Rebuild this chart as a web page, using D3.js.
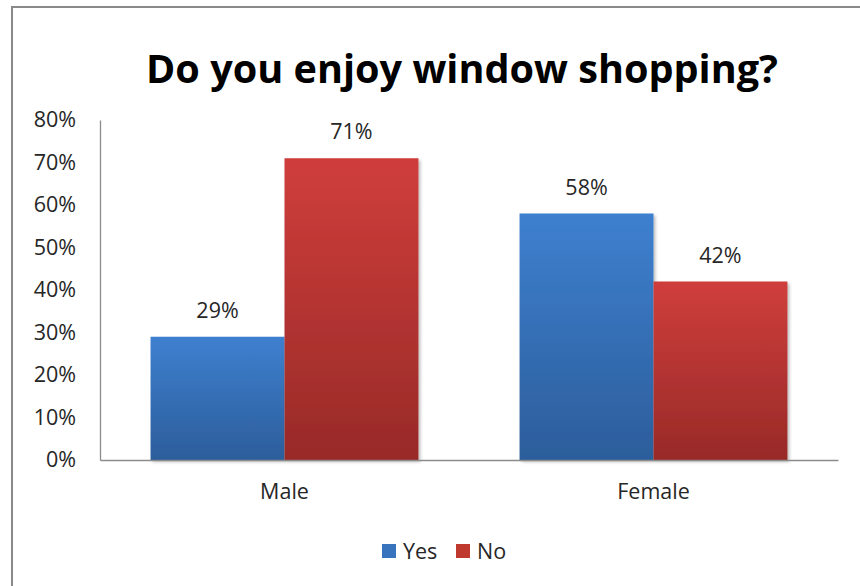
<!DOCTYPE html>
<html>
<head>
<meta charset="utf-8">
<script src="https://cdn.jsdelivr.net/npm/d3@7"></script>
<style>
  html, body { margin: 0; padding: 0; background: #fff; }
  svg { display: block; }
  text { font-family: "Open Sans", "Noto Sans", sans-serif; fill: #222; }
</style>
</head>
<body>
<svg id="chart" width="860" height="586"></svg>
<script>
// Survey answers by gender (percent)
const categories = ["Male", "Female"];
const seriesNames = ["Yes", "No"];
const yesValues = [29, 58];
const noValues = [71, 42];
const yTicks = [0, 10, 20, 30, 40, 50, 60, 70, 80];
const titleText = "Do you enjoy window shopping?";

const seriesColors = {
  Yes: { top: "#3e80cf", bottom: "#2c5d9b", legend: "#3873be" },
  No:  { top: "#cf3e3b", bottom: "#982a28", legend: "#c0392f" }
};

const svg = d3.select("#chart");
const W = 860, H = 586;
const labelSize = 21.5;

// Chart frame (continues past the right and bottom edges)
svg.append("path")
  .attr("d", `M12,${H + 5} V7 H${W + 5}`)
  .attr("fill", "none")
  .attr("stroke", "#8a8a8a")
  .attr("stroke-width", 2);

// Gradients and shadow
const defs = svg.append("defs");
seriesNames.forEach(s => {
  const g = defs.append("linearGradient")
    .attr("id", "grad-" + s).attr("x1", 0).attr("y1", 0).attr("x2", 0).attr("y2", 1);
  g.append("stop").attr("offset", "0%").attr("stop-color", seriesColors[s].top);
  g.append("stop").attr("offset", "100%").attr("stop-color", seriesColors[s].bottom);
});
const f = defs.append("filter").attr("id", "shadow")
  .attr("x", "-10%").attr("y", "-10%").attr("width", "130%").attr("height", "130%");
f.append("feDropShadow").attr("dx", 2).attr("dy", 2).attr("stdDeviation", 1.5)
  .attr("flood-color", "#000").attr("flood-opacity", 0.25);

// Title, sized so it spans the target width
const title = svg.append("text")
  .attr("x", 462).attr("y", 83)
  .attr("text-anchor", "middle")
  .attr("font-family", "Lato, 'Open Sans', sans-serif")
  .attr("font-size", 44)
  .attr("font-weight", "bold")
  .style("fill", "#000")
  .text(titleText);
const titleWidth = 632;
const measured = title.node().getComputedTextLength();
if (measured > 0) title.attr("font-size", 44 * titleWidth / measured);

// Plot area
const plot = { left: 100, right: 838, top: 120, bottom: 460 };

const x = d3.scaleBand()
  .domain(categories)
  .range([plot.left, plot.right])
  .paddingInner(0.274)
  .paddingOuter(0.137);

const xSub = d3.scaleBand()
  .domain(seriesNames)
  .range([0, x.bandwidth()]);

const y = d3.scaleLinear()
  .domain([0, 80])
  .range([plot.bottom, plot.top]);

// Y axis
const yAxis = svg.append("g")
  .attr("transform", `translate(${plot.left},0)`)
  .call(d3.axisLeft(y).tickValues(yTicks).tickFormat(d => d + "%").tickSize(0).tickPadding(24));
yAxis.select(".domain").attr("stroke", "#8c8c8c").attr("stroke-width", 1.3);
yAxis.selectAll("text")
  .attr("font-size", labelSize)
  .attr("font-family", "Open Sans")
  .style("fill", "#262626");

// Rows of bars
const rows = categories.map((c, i) => ({
  category: c,
  values: [
    { series: "Yes", value: yesValues[i] },
    { series: "No", value: noValues[i] }
  ]
}));

const groups = svg.append("g").selectAll("g")
  .data(rows)
  .join("g")
  .attr("transform", d => `translate(${x(d.category)},0)`);

groups.selectAll("rect")
  .data(d => d.values)
  .join("rect")
  .attr("x", d => xSub(d.series))
  .attr("y", d => y(d.value))
  .attr("width", xSub.bandwidth())
  .attr("height", d => y(0) - y(d.value))
  .attr("fill", d => `url(#grad-${d.series})`)
  .attr("filter", "url(#shadow)");

groups.selectAll("text.val")
  .data(d => d.values)
  .join("text")
  .attr("class", "val")
  .attr("x", d => xSub(d.series) + xSub.bandwidth() / 2)
  .attr("y", d => y(d.value) - 19)
  .attr("text-anchor", "middle")
  .attr("font-size", labelSize)
  .style("fill", "#262626")
  .text(d => d.value + "%");

// X axis
const xAxis = svg.append("g")
  .attr("transform", `translate(0,${plot.bottom})`)
  .call(d3.axisBottom(x).tickSize(0).tickPadding(24));
xAxis.select(".domain").attr("stroke", "#8c8c8c").attr("stroke-width", 1.3);
xAxis.selectAll("text")
  .attr("font-size", labelSize)
  .attr("font-family", "Open Sans")
  .style("fill", "#262626");

// Legend
const legendItems = [
  { name: "Yes", x: 382 },
  { name: "No", x: 456 }
];
const legend = svg.append("g").selectAll("g")
  .data(legendItems)
  .join("g")
  .attr("transform", d => `translate(${d.x},544)`);
legend.append("rect")
  .attr("width", 14).attr("height", 14)
  .attr("fill", d => seriesColors[d.name].legend);
legend.append("text")
  .attr("x", 21).attr("y", 15)
  .attr("font-size", labelSize)
  .style("fill", "#262626")
  .text(d => d.name);
</script>
</body>
</html>
